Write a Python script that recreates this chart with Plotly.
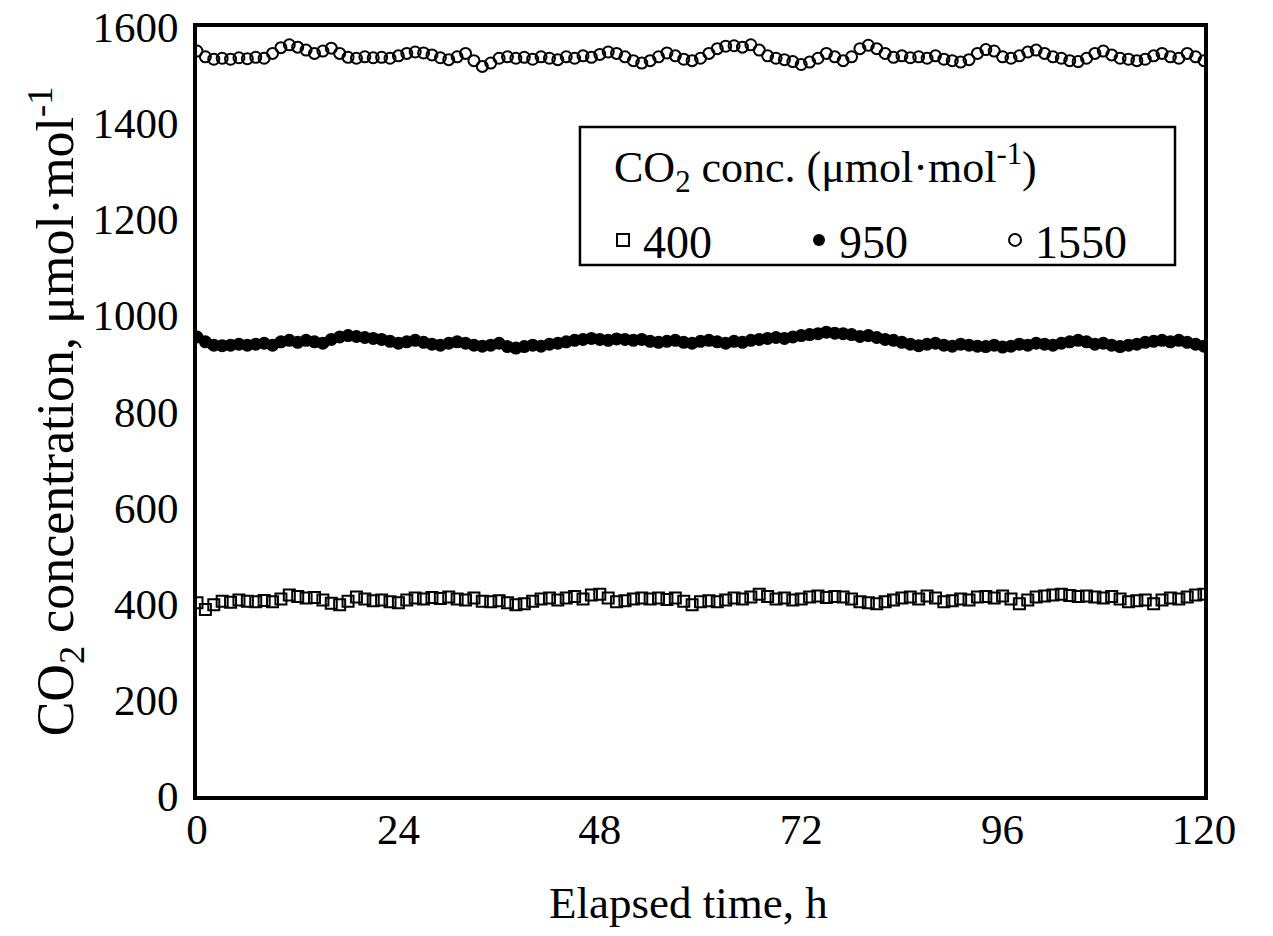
import plotly.graph_objects as go

hours = list(range(0, 121))

co2_400 = [402, 388, 398, 405, 403, 408, 405, 404, 407, 404,
           410, 418, 415, 412, 413, 408, 401, 398, 405, 414,
           410, 406, 408, 404, 402, 408, 412, 410, 413, 411,
           414, 410, 408, 412, 405, 404, 406, 402, 398, 400,
           405, 410, 412, 408, 412, 415, 410, 418, 420, 412,
           404, 406, 410, 412, 410, 412, 409, 412, 405, 398,
           404, 406, 404, 408, 412, 410, 414, 420, 415, 410,
           412, 408, 410, 414, 416, 413, 415, 414, 410, 404,
           402, 400, 404, 408, 412, 414, 410, 416, 412, 404,
           406, 410, 408, 414, 415, 412, 416, 410, 400, 408,
           414, 416, 418, 420, 417, 415, 416, 414, 412, 415,
           410, 404, 406, 408, 400, 408, 412, 410, 414, 418, 420]

co2_950 = [955, 945, 938, 937, 938, 940, 938, 940, 942, 938,
           945, 948, 944, 948, 945, 942, 950, 955, 958, 956,
           954, 952, 950, 946, 942, 945, 948, 944, 940, 938,
           942, 945, 942, 938, 936, 938, 942, 935, 932, 935,
           938, 936, 940, 942, 945, 948, 950, 952, 950, 948,
           951, 950, 948, 950, 946, 944, 946, 948, 944, 942,
           946, 948, 945, 942, 946, 944, 948, 950, 952, 954,
           952, 955, 958, 960, 962, 965, 963, 962, 960, 956,
           958, 954, 950, 948, 944, 940, 937, 940, 942, 938,
           936, 940, 938, 936, 935, 938, 934, 936, 940, 938,
           942, 940, 938, 942, 945, 948, 945, 940, 942, 938,
           935, 938, 940, 944, 946, 948, 945, 948, 944, 940, 936]

co2_1550 = [1550, 1538, 1533, 1535, 1533, 1536, 1534, 1537, 1535, 1545,
            1557, 1563, 1558, 1552, 1545, 1550, 1556, 1545, 1537, 1535,
            1538, 1536, 1537, 1535, 1540, 1545, 1548, 1546, 1542, 1536,
            1532, 1538, 1545, 1530, 1518, 1525, 1535, 1538, 1535, 1537,
            1533, 1538, 1535, 1532, 1538, 1535, 1540, 1537, 1543, 1548,
            1545, 1538, 1530, 1525, 1530, 1538, 1546, 1540, 1533, 1530,
            1535, 1545, 1555, 1560, 1561, 1558, 1563, 1552, 1540, 1535,
            1532, 1528, 1522, 1527, 1535, 1545, 1538, 1530, 1538, 1555,
            1562, 1555, 1545, 1537, 1540, 1536, 1538, 1535, 1540, 1533,
            1530, 1527, 1532, 1545, 1553, 1550, 1538, 1535, 1540, 1548,
            1552, 1545, 1538, 1535, 1530, 1528, 1535, 1545, 1550, 1542,
            1535, 1533, 1530, 1533, 1540, 1545, 1538, 1535, 1545, 1538, 1530]

x_ticks = [0, 24, 48, 72, 96, 120]
y_ticks = [0, 200, 400, 600, 800, 1000, 1200, 1400, 1600]
legend_title = "CO<sub>2</sub> conc. (μmol·mol<sup>-1</sup>)"
x_title = "Elapsed time, h"
y_title = "CO<sub>2</sub> concentration, μmol·mol<sup>-1</sup>"

FONT = "Liberation Serif"

fig = go.Figure()
fig.add_trace(go.Scatter(
    x=hours, y=co2_400, mode="markers", name="400",
    marker=dict(symbol="square-open", size=11, color="black", line=dict(width=2, color="black")),
))
fig.add_trace(go.Scatter(
    x=hours, y=co2_950, mode="markers", name="950",
    marker=dict(symbol="circle", size=13, color="black"),
))
fig.add_trace(go.Scatter(
    x=hours, y=co2_1550, mode="markers", name="1550",
    marker=dict(symbol="circle-open", size=11, color="black", line=dict(width=2, color="black")),
))

# legend frame and title
fig.add_shape(type="rect", xref="paper", yref="paper",
              x0=0.3803, x1=0.9712, y0=0.6905, y1=0.87,
              line=dict(color="black", width=2.5), fillcolor="rgba(0,0,0,0)", layer="above")
fig.add_annotation(xref="paper", yref="paper", x=0.412, y=0.817,
                   xanchor="left", yanchor="middle", showarrow=False,
                   text=legend_title, font=dict(family=FONT, size=44, color="black"))
# x axis title
fig.add_annotation(xref="paper", yref="paper", x=0.4876, y=-0.139,
                   xanchor="center", yanchor="middle", showarrow=False,
                   text=x_title, font=dict(family=FONT, size=45, color="black"))

fig.update_layout(
    width=1273, height=936,
    margin=dict(l=197, r=69, t=27, b=140, autoexpand=False),
    paper_bgcolor="white", plot_bgcolor="white",
    font=dict(family=FONT, color="black", size=42),
    showlegend=True,
    legend=dict(
        orientation="h",
        x=0.4032, y=0.723, xanchor="left", yanchor="middle",
        bgcolor="rgba(0,0,0,0)", borderwidth=0,
        font=dict(family=FONT, size=46, color="black"),
        entrywidth=151, entrywidthmode="pixels",
        itemsizing="constant",
    ),
    xaxis=dict(
        range=[0, 120], tickvals=x_ticks, ticktext=[str(v) for v in x_ticks],
        showgrid=False, zeroline=False, showline=True, linecolor="black", linewidth=4, mirror=True,
        ticks="", ticklen=0, ticklabelstandoff=-8, automargin=False, ticklabeloverflow="allow",
        tickfont=dict(family=FONT, size=43, color="black"),
    ),
    yaxis=dict(
        range=[0, 1600], tickvals=y_ticks, ticktext=[str(v) for v in y_ticks],
        showgrid=False, zeroline=False, showline=True, linecolor="black", linewidth=4, mirror=True,
        ticks="", ticklen=0, ticklabelstandoff=6, automargin=False, ticklabeloverflow="allow",
        title=dict(text=y_title, font=dict(family=FONT, size=52, color="black"), standoff=2),
        tickfont=dict(family=FONT, size=43, color="black"),
    ),
)

fig.write_html("out.html", config={"displayModeBar": False},
               post_script="document.body.style.margin='0';")
